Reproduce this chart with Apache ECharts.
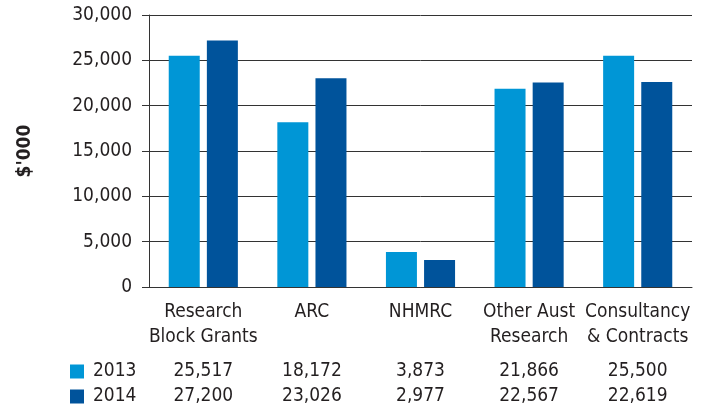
<!DOCTYPE html>
<html lang="en">
<head>
    <meta charset="utf-8"/>
    <title>Research income</title>
    <script src="https://cdn.jsdelivr.net/npm/echarts@6/dist/echarts.min.js"></script>
    <style>
        html, body {
            margin: 0;
            background: #fff;
        }

        #chart {
            width: 708px;
            height: 412px;
        }
    </style>
</head>
<body>
<div id="chart"></div>
<script>
    // data ($'000)
    const categories = ["Research\nBlock Grants", "ARC", "NHMRC", "Other Aust\nResearch", "Consultancy\n& Contracts"];
    const years = ["2013", "2014"];
    const values2013 = [25517, 18172, 3873, 21866, 25500];
    const values2014 = [27200, 23026, 2977, 22567, 22619];

    const font = "'DejaVu Sans Condensed', 'Liberation Sans Narrow', Roboto, sans-serif";
    const size = 19;
    const ink = "#231f20";
    const colors = ["#0096d6", "#00539b"];
    const fmt = v => Number(v).toLocaleString("en-US");

    const chart = echarts.init(document.getElementById("chart"));

    // hidden category axes used as the data table rows under the chart
    function tableAxis(values, margin) {
        return {
            type: "category",
            position: "bottom",
            data: values.map(fmt),
            axisLine: {show: false},
            axisTick: {show: false},
            splitLine: {show: false},
            axisLabel: {
                margin: margin,
                color: ink,
                fontFamily: font,
                fontSize: size,
                lineHeight: 25,
                interval: 0
            }
        };
    }

    const option = {
        animation: false,
        textStyle: {fontFamily: font},
        grid: {left: 149, right: 16, top: 15, bottom: 125},
        legend: {
            orient: "vertical",
            left: 70,
            top: 359,
            padding: 0,
            itemWidth: 14,
            itemHeight: 14,
            itemGap: 0,
            icon: "rect",
            selectedMode: false,
            data: years,
            textStyle: {
                color: ink,
                fontFamily: font,
                fontSize: size,
                lineHeight: 25,
                padding: [0, 0, 0, 4]
            }
        },
        xAxis: [
            {
                type: "category",
                data: categories,
                axisLine: {lineStyle: {color: "#333", width: 1}},
                axisTick: {show: false},
                axisLabel: {
                    margin: 13,
                    color: ink,
                    fontFamily: font,
                    fontSize: size,
                    lineHeight: 25,
                    interval: 0
                }
            },
            tableAxis(values2013, 72),
            tableAxis(values2014, 97)
        ],
        yAxis: {
            type: "value",
            min: 0,
            max: 30000,
            interval: 5000,
            name: "$'000",
            nameLocation: "middle",
            nameRotate: 90,
            nameGap: 114,
            nameTextStyle: {
                color: ink,
                fontFamily: font,
                fontSize: size,
                fontWeight: "bold"
            },
            axisLine: {show: true, lineStyle: {color: "#333", width: 1}},
            axisTick: {show: true, length: 7, lineStyle: {color: "#333"}},
            splitLine: {lineStyle: {color: "#333", width: 1}},
            axisLabel: {
                margin: 17,
                color: ink,
                fontFamily: font,
                fontSize: size,
                formatter: fmt
            }
        },
        series: [
            {
                name: years[0],
                type: "bar",
                data: values2013,
                barWidth: 31,
                barGap: "23%",
                itemStyle: {color: colors[0]}
            },
            {
                name: years[1],
                type: "bar",
                data: values2014,
                barWidth: 31,
                itemStyle: {color: colors[1]}
            }
        ]
    };

    chart.setOption(option);
</script>
</body>
</html>
